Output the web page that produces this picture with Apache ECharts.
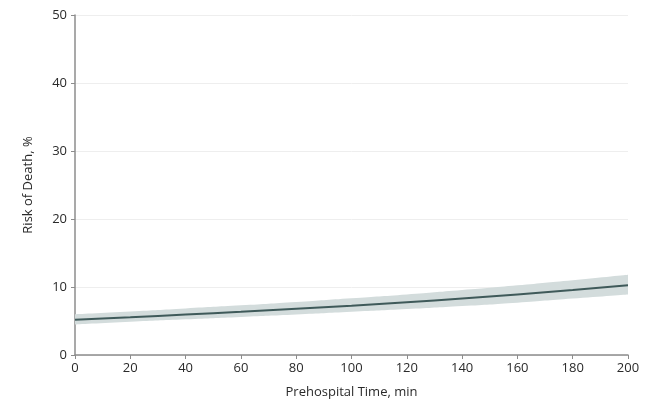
<!DOCTYPE html>
<html>
<head>
<meta charset="utf-8">
<script src="https://cdn.jsdelivr.net/npm/echarts@6/dist/echarts.min.js"></script>
<style>
  html, body { margin: 0; padding: 0; background: #fff; }
  #chart { width: 648px; height: 408px; }
</style>
</head>
<body>
<div id="chart"></div>
<script>
// prehospital time (min)
const times = ["0", "20", "40", "60", "80", "100", "120", "140", "160", "180", "200"];
// estimated risk of death (%)
const risk = [5.2, 5.55, 5.95, 6.35, 6.8, 7.25, 7.75, 8.3, 8.9, 9.55, 10.25];
// 95% CI
const lower = [4.5, 4.9, 5.25, 5.6, 5.95, 6.35, 6.75, 7.2, 7.7, 8.3, 8.9];
const upper = [6.0, 6.4, 6.85, 7.3, 7.8, 8.35, 8.9, 9.55, 10.25, 11.0, 11.8];

const font = "'Open Sans', 'Noto Sans', sans-serif";
const axisGrey = "#8c8c8c";

const chart = echarts.init(document.getElementById("chart"));

chart.setOption({
  animation: false,
  grid: { left: 75, right: 20, top: 15, bottom: 53 },
  xAxis: {
    type: "category",
    data: times,
    boundaryGap: false,
    name: "Prehospital Time, min",
    nameLocation: "middle",
    nameGap: 31,
    nameTextStyle: { fontFamily: font, fontSize: 13, color: "#2a2a2a" },
    axisLine: { lineStyle: { color: axisGrey, width: 1.5 } },
    axisTick: { length: 4, lineStyle: { color: axisGrey } },
    axisLabel: { fontFamily: font, fontSize: 13, color: "#2a2a2a", margin: 7 },
    splitLine: { show: false }
  },
  yAxis: {
    type: "value",
    min: 0,
    max: 50,
    interval: 10,
    name: "Risk of Death, %",
    nameLocation: "middle",
    nameGap: 40,
    nameTextStyle: { fontFamily: font, fontSize: 13, color: "#2a2a2a" },
    axisLine: { show: true, lineStyle: { color: axisGrey, width: 1.5 } },
    axisTick: { show: true, length: 4, lineStyle: { color: axisGrey } },
    axisLabel: { fontFamily: font, fontSize: 13, color: "#2a2a2a", margin: 8 },
    splitLine: { lineStyle: { color: "#eeeeee", width: 1 } }
  },
  series: [
    {
      type: "line",
      stack: "ci",
      data: lower,
      symbol: "none",
      smooth: true,
      lineStyle: { opacity: 0 },
      silent: true
    },
    {
      type: "line",
      stack: "ci",
      data: upper.map((u, i) => +(u - lower[i]).toFixed(2)),
      symbol: "none",
      smooth: true,
      lineStyle: { opacity: 0 },
      areaStyle: { color: "#d3dcdc", opacity: 1 },
      silent: true
    },
    {
      type: "line",
      data: risk,
      symbol: "none",
      smooth: true,
      lineStyle: { color: "#3f5a5a", width: 2 }
    }
  ]
});
</script>
</body>
</html>
